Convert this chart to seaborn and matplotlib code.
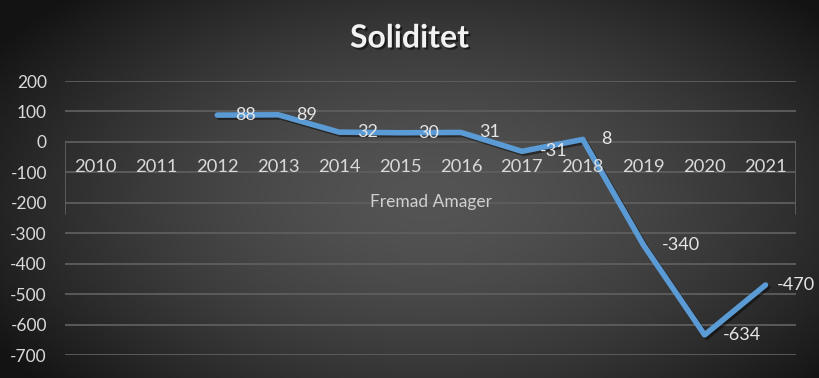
import numpy as np
import pandas as pd
import matplotlib
matplotlib.use("Agg")
import matplotlib.pyplot as plt
import matplotlib.patheffects as pe
import seaborn as sns

# Dados
anos = ["2010", "2011", "2012", "2013", "2014", "2015", "2016", "2017", "2018", "2019", "2020", "2021"]
soliditet = [np.nan, np.nan, 88, 89, 32, 30, 31, -31, 8, -340, -634, -470]
rotulos = ["", "", "88", "89", "32", "30", "31", "-31", "8", "-340", "-634", "-470"]
yticks = [200, 100, 0, -100, -200, -300, -400, -500, -600, -700]

df = pd.DataFrame({"pos": range(len(anos)), "ano": anos, "valor": soliditet})

sns.set_style("dark")
plt.rcParams["font.family"] = ["Lato", "DejaVu Sans"]

fig = plt.figure(figsize=(8.19, 3.78), dpi=100)

# Fundo com gradiente radial
bg = fig.add_axes([0, 0, 1, 1], zorder=0)
xx, yy = np.meshgrid(np.linspace(-1, 1, 400), np.linspace(-1, 1, 200))
r = np.sqrt(((xx - 0.05) / 1.05) ** 2 + ((yy + 0.05) / 1.25) ** 2)
val = 0.33 - 0.19 * np.clip(r, 0, 1.2) ** 1.6
bg.imshow(np.dstack([val, val, val]), aspect="auto", extent=[0, 1, 0, 1], origin="lower")
bg.set_axis_off()

ax = fig.add_axes([65 / 819, 23 / 378, 731 / 819, 274 / 378], zorder=1)
ax.set_facecolor("none")

azul = "#5B9BD5"
sns.lineplot(data=df, x="pos", y="valor", ax=ax, color=azul, linewidth=4,
             solid_capstyle="round", solid_joinstyle="round",
             path_effects=[pe.SimpleLineShadow(offset=(1.5, -1.5), shadow_color="black", alpha=0.45),
                           pe.Normal()])

ax.set_xlim(-0.5, 11.5)
ax.set_ylim(-700, 200)
ax.set_yticks(yticks)
ax.set_yticklabels([str(v) for v in yticks], color="#D9D9D9", fontsize=12.5)
ax.tick_params(axis="y", length=0, pad=13)
ax.set_xticks([])
ax.set_xlabel("")
ax.set_ylabel("")
for s in ax.spines.values():
    s.set_visible(False)
ax.grid(False)
for v in yticks:
    ax.axhline(v, color="#5E5E5E", linewidth=1.3, zorder=0.5)
ax.plot([-0.5, -0.5], [0, -238], color="#5E5E5E", linewidth=1.3, zorder=0.5)
ax.plot([11.5, 11.5], [0, -238], color="#5E5E5E", linewidth=1.3, zorder=0.5)

# Rótulos das categorias junto ao eixo zero
for i, a in enumerate(anos):
    ax.annotate(a, (i, 0), xytext=(0, -18), textcoords="offset points",
                ha="center", va="center", color="#D9D9D9", fontsize=13.2)

# Rótulos dos dados (o último fica mais perto para caber na área)
for i, (v, t) in enumerate(zip(soliditet, rotulos)):
    if t:
        dx = 8 if i == len(anos) - 1 else 13
        ax.annotate(t, (i, v), xytext=(dx, 0), textcoords="offset points",
                    ha="left", va="center", color="#E6E6E6", fontsize=13)

ax.text(5.5, -198, "Fremad Amager", ha="center", va="center", color="#D0D0D0", fontsize=12.5)

fig.text(0.5, 1 - 38 / 378, "Soliditet", ha="center", va="center", color="#F2F2F2",
         fontsize=23, fontweight="bold",
         path_effects=[pe.withSimplePatchShadow(offset=(1.5, -1.5), shadow_rgbFace="black", alpha=0.5)])

fig.savefig("out.png", dpi=100)
